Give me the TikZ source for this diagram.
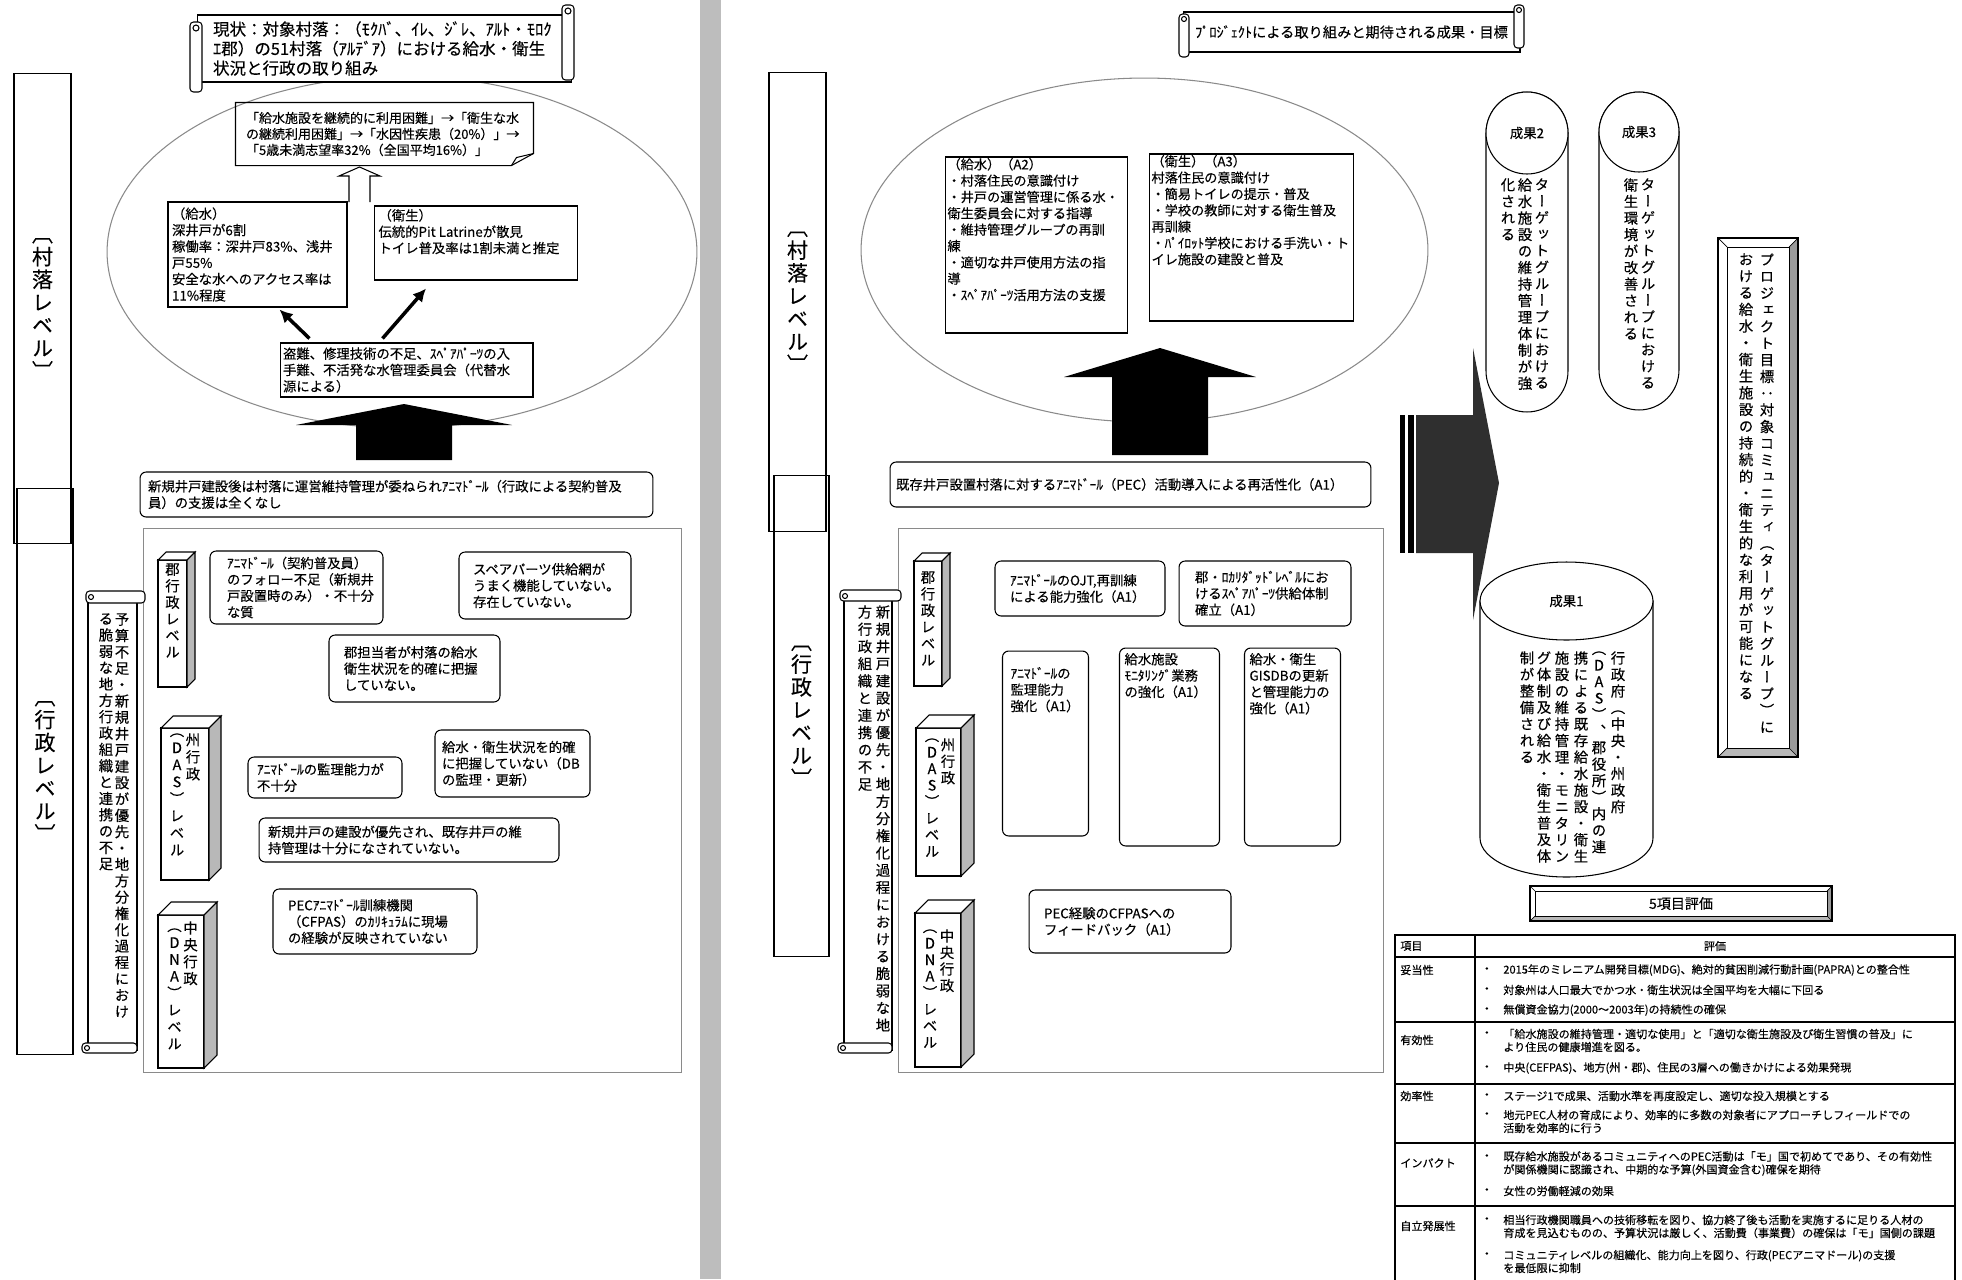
\documentclass[tikz,border=0pt]{standalone}
\usepackage{fontspec}
\setmainfont{Noto Sans CJK JP}[FakeBold=0.25]
\newfontfamily\vjp{Noto Sans CJK JP}[RawFeature=+vert, FakeBold=0.25]
\usetikzlibrary{arrows.meta,calc,shapes.geometric}
\definecolor{linegray}{HTML}{8A8A8A}
\definecolor{bandgray}{HTML}{BDBDBD}
\definecolor{sidegray}{HTML}{B8B8B8}
\definecolor{bevelgray}{HTML}{9A9A9A}
\definecolor{arrowdark}{HTML}{2F2F2F}

\newcommand\fs[2]{\fontsize{#1}{#2}\selectfont}
\newcommand\topbox[3]{\parbox[c][#1][t]{#2}{\raggedright #3}}

% one column of vertical text
\ExplSyntaxOn
\NewDocumentCommand \vcol { O{9.4pt} m }
  {
    \vbox:n
      {
        \skip_set:Nn \baselineskip {#1}
        \dim_set:Nn \lineskiplimit { -\c_max_dim }
        \tl_map_inline:nn {#2} { \hbox_to_wd:nn { 1em } { \hss ##1 \hss } }
      }
  }
\ExplSyntaxOff

% 3D level pillar: x1, y1, x2, y2, depth
\newcommand\pillar[5]{%
  \draw[line width=0.6pt, fill=white] (#1,#2) rectangle (#3,#4);
  \draw[line width=0.6pt, fill=white] (#1,#2) -- ++(#5,-#5) -- ({#3+#5},{#2-#5}) -- (#3,#2) -- cycle;
  \draw[line width=0.6pt, fill=sidegray] (#3,#2) -- ({#3+#5},{#2-#5}) -- ({#3+#5},{#4-#5}) -- (#3,#4) -- cycle;
}

% bevelled frame: x1, y1, x2, y2, bevel
\newcommand\bevelframe[5]{%
  \fill[white] (#1,#2) rectangle (#3,#4);
  \fill[bevelgray] (#3,#2) -- (#3,#4) -- ({#3-#5},{#4-#5}) -- ({#3-#5},{#2+#5}) -- cycle;
  \fill[sidegray] (#1,#4) -- (#3,#4) -- ({#3-#5},{#4-#5}) -- ({#1+#5},{#4-#5}) -- cycle;
  \draw[line width=0.6pt] (#1,#2) rectangle (#3,#4);
  \draw[line width=0.5pt] ({#1+#5},{#2+#5}) rectangle ({#3-#5},{#4-#5});
  \draw[line width=0.4pt] (#1,#2) -- ({#1+#5},{#2+#5}) (#3,#2) -- ({#3-#5},{#2+#5})
    (#1,#4) -- ({#1+#5},{#4-#5}) (#3,#4) -- ({#3-#5},{#4-#5});
}

\begin{document}
\begin{tikzpicture}[
    x=0.02cm, y=-0.02cm,
    >=Latex,
    font=\fs{7.6}{9.3},
    sqline/.style={line width=0.6pt},
    sqbox/.style={draw, line width=0.6pt, fill=white, align=left, inner ysep=0pt},
    rndbox/.style={sqbox, rounded corners=3.5pt},
    oval/.style={draw=linegray, line width=0.6pt, ellipse, inner sep=0pt},
    panel/.style={draw=linegray, line width=0.6pt, inner sep=0pt},
    levelbar/.style={draw, line width=0.6pt, inner sep=0pt, font=\vjp\fs{12}{13}},
    vtext/.style={inner sep=0pt, anchor=north, font=\vjp\fs{8.2}{9.4}},
    flow/.style={-{Latex[length=2.6mm,width=2.6mm]}, line width=2pt},
    cell/.style={inner sep=0pt, anchor=west, align=left, font=\fs{6.3}{7.4}}
]

% page and divider
\fill[white] (0,0) rectangle (1962,1279);
\useasboundingbox (0,0) rectangle (1962,1279);
\clip (0,0) rectangle (1962,1279);
\fill[bandgray] (700,0) rectangle (721,1279);

%%%%%%%%%%%%%%%% current situation (left page)

% level bars
\node[levelbar, minimum width=1.12cm, minimum height=11.34cm] (lgov) at (45,771.5) {\vcol[13pt]{〔行政レベル〕}};
\node[levelbar, minimum width=1.14cm, minimum height=9.42cm] (lvillage) at (42.5,308.5) {\vcol[13pt]{〔村落レベル〕}};

% village ellipse
\node[oval, minimum width=11.8cm, minimum height=7.04cm] (lpond) at (402,252) {};

% title scroll
\node[sqbox, minimum width=7.5cm, minimum height=1.34cm, text width=6.86cm, inner xsep=0.32cm, font=\fs{9.4}{11.1}] (ltitle) at (384.5,48.5) {
    現状：対象村落：（ﾓｸﾊﾞ、ｲﾚ、ｼﾞﾚ、ｱﾙﾄ・ﾓﾛｸ\\
    ｴ郡）の51村落（ｱﾙﾃﾞｱ）における給水・衛生\\
    状況と行政の取り組み
};
\draw[sqline, fill=white, rounded corners=2pt] (190,22) rectangle (202,92);
\draw[sqline, fill=white, rounded corners=2pt] (562,5) rectangle (574,80);
\draw[sqline] (196,28) circle[radius=3];
\draw[sqline] (568,11) circle[radius=3];

% chain of consequences (folded note)
\node[sqbox, draw=none, fill=none, minimum width=5.94cm, minimum height=1.24cm, text width=5.54cm, inner xsep=0.2cm, font=\fs{7.4}{9.1}] (lchain) at (384.5,134) {
    「給水施設を継続的に利用困難」→「衛生な水\\
    の継続利用困難」→「水因性疾患（20\%）」→\\
    「5歳未満志望率32\%（全国平均16\%）」
};
\draw[sqline] (lchain.north west) -- (lchain.north east) -- ($(lchain.south east)+(0,-12)$)
    -- ($(lchain.south east)+(-22,0)$) -- (lchain.south west) -- cycle;
\draw[sqline] ($(lchain.south east)+(0,-12)$) -- ($(lchain.south east)+(-17,-8)$) -- ($(lchain.south east)+(-22,0)$);

% hollow arrow up to the note
\draw[sqline, fill=white] (349,202) -- (349,176) -- (339,176) -- (359.5,167) -- (380,176) -- (370,176) -- (370,202);

% water supply / sanitation state
\node[sqbox, minimum width=3.58cm, minimum height=2.1cm, text width=3.42cm, inner xsep=0.08cm] (lwater) at (257.5,254.5) {
    （給水）\\深井戸が6割\\稼働率：深井戸83\%、浅井\\戸55\%\\安全な水へのアクセス率は\\11\%程度
};
\node[sqbox, inner xsep=0.08cm, inner ysep=0.06cm] (lsanit) at (476,243) {
    \topbox{1.36cm}{3.84cm}{（衛生）\\伝統的Pit Latrineが散見\\トイレ普及率は1割未満と推定}
};

% causes
\node[sqbox, minimum width=5.06cm, minimum height=1.08cm, text width=4.94cm, inner xsep=0.06cm] (lcause) at (406.5,370) {
    盗難、修理技術の不足、ｽﾍﾟｱﾊﾟｰﾂの入\\手難、不活発な水管理委員会（代替水\\源による）
};
\draw[flow] ($(lcause.north west)+(30,-4)$) -- ($(lwater.south east)+(-68,2)$);
\draw[flow] ($(lcause.north west)+(103,-4)$) -- ($(lsanit.south west)+(52,8)$);

% block arrow from the administration
\fill (356,460) -- (356,425) -- (296,425) -- (404,404) -- (512,425) -- (452,425) -- (452,460) -- cycle;

\node[rndbox, minimum width=10.26cm, minimum height=0.9cm, text width=9.94cm, inner xsep=0.16cm] (lsupport) at (396.5,494.5) {
    新規井戸建設後は村落に運営維持管理が委ねられｱﾆﾏﾄﾞｰﾙ（行政による契約普及\\員）の支援は全くなし
};

% administration panel
\node[panel, minimum width=10.78cm, minimum height=10.9cm] (ladmin) at (412.5,800.5) {};

% weakness scroll
\draw[sqline, fill=white] (88,598) rectangle (137,1050);
\draw[sqline, fill=white, rounded corners=2pt] (86,591) rectangle (145,603);
\draw[sqline, fill=white, rounded corners=2pt] (82,1043) rectangle (137,1053);
\draw[sqline] (91,597) circle[radius=2.5];
\draw[sqline] (87,1048) circle[radius=2.5];
\node[vtext] (lweak1) at (122,613) {\vcol[9.3pt]{予算不足・新規井戸建設が優先・地方分権化過程におけ}};
\node[vtext] (lweak2) at (106,613) {\vcol[9.3pt]{る脆弱な地方行政組織と連携の不足}};

% administrative levels
\pillar{158}{560}{187}{687}{8}
\node[vtext] (lgun) at (172.5,563) {\vcol[9.4pt]{郡行政レベル}};
\pillar{161}{728}{209}{880}{12}
\node[vtext] (lshu1) at (193,733) {\vcol[9.7pt]{州行政}};
\node[vtext] (lshu2) at (177,733) {\vcol[9.7pt]{（DAS）レベル}};
\pillar{158}{915}{204}{1068}{13}
\node[vtext] (lchuo1) at (190.5,921) {\vcol[9.6pt]{中央行政}};
\node[vtext] (lchuo2) at (174.5,928) {\vcol[9.6pt]{（DNA）レベル}};

% problems
\node[rndbox, minimum width=3.46cm, minimum height=1.46cm, text width=2.78cm, inner xsep=0.34cm] (lanimador) at (296.5,587.5) {
    ｱﾆﾏﾄﾞｰﾙ（契約普及員）\\のフォロー不足（新規井\\戸設置時のみ）・不十分\\な質
};
\node[rndbox, minimum width=3.44cm, minimum height=1.34cm, text width=2.88cm, inner xsep=0.28cm] (lspare) at (545,585.5) {
    スペアパーツ供給網が\\うまく機能していない。\\存在していない。
};
\node[rndbox, minimum width=3.42cm, minimum height=1.34cm, text width=2.82cm, inner xsep=0.3cm] (lgunstaff) at (414.5,668.5) {
    郡担当者が村落の給水\\衛生状況を的確に把握\\していない。
};
\node[rndbox, minimum width=3.08cm, minimum height=0.82cm, text width=2.72cm, inner xsep=0.18cm] (lsuper) at (325,777.5) {
    ｱﾆﾏﾄﾞｰﾙの監理能力が\\不十分
};
\node[rndbox, minimum width=3.1cm, minimum height=1.34cm, text width=2.82cm, inner xsep=0.14cm] (lmonitor) at (512.5,763.5) {
    給水・衛生状況を的確\\に把握していない（DB\\の監理・更新）
};
\node[rndbox, minimum width=6cm, minimum height=0.88cm, text width=5.64cm, inner xsep=0.18cm] (lpriority) at (409,840) {
    新規井戸の建設が優先され、既存井戸の維\\持管理は十分になされていない。
};
\node[rndbox, minimum width=4.08cm, minimum height=1.3cm, text width=3.48cm, inner xsep=0.3cm] (lcfpas) at (375,921.5) {
    PECｱﾆﾏﾄﾞｰﾙ訓練機関\\（CFPAS）のｶﾘｷｭﾗﾑに現場\\の経験が反映されていない
};

%%%%%%%%%%%%%%%% project plan (right page)

% title scroll
\node[sqbox, minimum width=6.74cm, minimum height=0.8cm, text width=6.5cm, inner xsep=0.12cm, align=center, font=\fs{8.1}{9.5}] (rtitle) at (1351.5,32) {
    ﾌﾟﾛｼﾞｪｸﾄによる取り組みと期待される成果・目標
};
\draw[sqline, fill=white, rounded corners=2pt] (1179,14) rectangle (1189,57);
\draw[sqline, fill=white, rounded corners=2pt] (1514,5) rectangle (1524,48);
\draw[sqline] (1184,19) circle[radius=2.5];
\draw[sqline] (1519,10) circle[radius=2.5];

% level bars
\node[levelbar, minimum width=1.1cm, minimum height=9.64cm] (rgov) at (801.5,716) {\vcol[13pt]{〔行政レベル〕}};
\node[levelbar, minimum width=1.14cm, minimum height=9.2cm] (rvillage) at (797.5,302) {\vcol[13pt]{〔村落レベル〕}};

% village ellipse
\node[oval, minimum width=11.34cm, minimum height=6.88cm] (rpond) at (1144.5,250) {};

\node[sqbox, inner xsep=0.04cm, inner ysep=0.02cm, font=\fs{7.5}{9.3}] (ra2) at (1036.5,245) {
    \topbox{3.48cm}{3.5cm}{（給水）（A2）\\・村落住民の意識付け\\・井戸の運営管理に係る水・\\衛生委員会に対する指導\\・維持管理グループの再訓\\練\\・適切な井戸使用方法の指\\導\\・ｽﾍﾟｱﾊﾟｰﾂ活用方法の支援}
};
\node[sqbox, inner xsep=0.04cm, inner ysep=0.02cm, font=\fs{7.5}{9.3}] (ra3) at (1251.5,237.5) {
    \topbox{3.3cm}{3.94cm}{（衛生）（A3）\\村落住民の意識付け\\・簡易トイレの提示・普及\\・学校の教師に対する衛生普及\\再訓練\\・ﾊﾟｲﾛｯﾄ学校における手洗い・ト\\イレ施設の建設と普及}
};

% block arrow from the administration
\fill (1112,455) -- (1112,377) -- (1064,377) -- (1160,348) -- (1256,377) -- (1208,377) -- (1208,455) -- cycle;

\node[rndbox, minimum width=9.62cm, minimum height=0.9cm, text width=9.38cm, inner xsep=0.12cm] (rrevive) at (1130.5,484.5) {
    既存井戸設置村落に対するｱﾆﾏﾄﾞｰﾙ（PEC）活動導入による再活性化（A1）
};

% administration panel
\node[panel, minimum width=9.72cm, minimum height=10.9cm] (radmin) at (1141,800.5) {};

% weakness scroll
\draw[sqline, fill=white] (844,597) rectangle (892,1050);
\draw[sqline, fill=white, rounded corners=2pt] (840,590) rectangle (901,601);
\draw[sqline, fill=white, rounded corners=2pt] (838,1043) rectangle (892,1053);
\draw[sqline] (845,596) circle[radius=2.5];
\draw[sqline] (843,1048) circle[radius=2.5];
\node[vtext] (rweak1) at (883,605) {\vcol[9.8pt]{新規井戸建設が優先・地方分権化過程における脆弱な地}};
\node[vtext] (rweak2) at (865,605) {\vcol[9.8pt]{方行政組織と連携の不足}};

% administrative levels
\pillar{914}{561}{942}{686}{8}
\node[vtext] (rgun) at (928,571) {\vcol[9.4pt]{郡行政レベル}};
\pillar{916}{728}{961}{876}{13}
\node[vtext] (rshu1) at (948,738) {\vcol[9.4pt]{州行政}};
\node[vtext] (rshu2) at (932,738) {\vcol[9.4pt]{（DAS）レベル}};
\pillar{915}{913}{961}{1067}{13}
\node[vtext] (rchuo1) at (947,929) {\vcol[9.4pt]{中央行政}};
\node[vtext] (rchuo2) at (930,929) {\vcol[9.4pt]{（DNA）レベル}};

% activities
\node[rndbox, minimum width=3.4cm, minimum height=1.1cm, text width=2.8cm, inner xsep=0.3cm] (rojt) at (1080,588.5) {
    ｱﾆﾏﾄﾞｰﾙのOJT,再訓練\\による能力強化（A1）
};
\node[rndbox, minimum width=3.44cm, minimum height=1.3cm, text width=2.8cm, inner xsep=0.32cm] (rsupply) at (1265,593.5) {
    郡・ﾛｶﾘﾀﾞｯﾄﾞﾚﾍﾞﾙにお\\けるｽﾍﾟｱﾊﾟｰﾂ供給体制\\確立（A1）
};
\node[rndbox, inner xsep=0.16cm, inner ysep=0.32cm] (rsuper) at (1045.5,743.5) {
    \topbox{3.06cm}{1.34cm}{ｱﾆﾏﾄﾞｰﾙの\\監理能力\\強化（A1）}
};
\node[rndbox, inner xsep=0.1cm, inner ysep=0.1cm] (rmonitor) at (1169.5,747) {
    \topbox{3.76cm}{1.74cm}{給水施設\\ﾓﾆﾀﾘﾝｸﾞ業務\\の強化（A1）}
};
\node[rndbox, inner xsep=0.1cm, inner ysep=0.1cm] (rgis) at (1292.5,747) {
    \topbox{3.76cm}{1.66cm}{給水・衛生\\GISDBの更新\\と管理能力の\\強化（A1）}
};
\node[rndbox, minimum width=4.04cm, minimum height=1.26cm, text width=3.44cm, inner xsep=0.3cm] (rfeedback) at (1130,921.5) {
    PEC経験のCFPASへの\\フィードバック（A1）
};

% arrow towards the outcomes
\fill[arrowdark] (1416,415) -- (1473,415) -- (1473,348) -- (1499,483) -- (1473,620) -- (1473,553) -- (1416,553) -- cycle;
\fill (1400,415) rectangle (1405,553);
\fill (1408,415) rectangle (1414,553);

% outcome 2
\node[sqbox, rounded corners=0.82cm, minimum width=1.64cm, minimum height=6.4cm] (out2tube) at (1527,252) {};
\node[sqbox, circle, minimum size=1.64cm, align=center] (out2) at (1527,133) {成果2};
\node[vtext] (out2a) at (1542,178) {\vcol{ターゲットグループにおける}};
\node[vtext] (out2b) at (1525,178) {\vcol{給水施設の維持管理体制が強}};
\node[vtext] (out2c) at (1508,178) {\vcol{化される}};

% outcome 3
\node[sqbox, rounded corners=0.8cm, minimum width=1.6cm, minimum height=6.36cm] (out3tube) at (1639,251) {};
\node[sqbox, circle, minimum size=1.6cm, align=center] (out3) at (1639,132) {成果3};
\node[vtext] (out3a) at (1648,178) {\vcol{ターゲットグループにおける}};
\node[vtext] (out3b) at (1631,178) {\vcol{衛生環境が改善される}};

% project purpose
\bevelframe{1718}{238}{1798}{757}{9}
\node[vtext] (goal1) at (1767,253) {\vcol[9.5pt]{プロジェクト目標：対象コミュニティ（ターゲットグループ）に}};
\node[vtext] (goal2) at (1746,253) {\vcol[9.5pt]{おける給水・衛生施設の持続的・衛生的な利用が可能になる}};

% outcome 1
\draw[sqline, fill=white] (1480,601) -- (1480,838) arc[start angle=180, end angle=0, x radius=86.5, y radius=39] -- (1653,601) -- cycle;
\node[sqbox, ellipse, minimum width=3.46cm, minimum height=1.56cm, align=center] (out1) at (1566.5,601) {成果1};
\node[vtext] (out1a) at (1618,651) {\vcol{行政府（中央・州政府}};
\node[vtext] (out1b) at (1599,651) {\vcol{（DAS）、郡役所）内の連}};
\node[vtext] (out1c) at (1581,651) {\vcol{携による既存給水施設・衛生}};
\node[vtext] (out1d) at (1562,651) {\vcol{施設の維持管理・モニタリン}};
\node[vtext] (out1e) at (1544,651) {\vcol{グ体制及び給水・衛生普及体}};
\node[vtext] (out1f) at (1527,651) {\vcol{制が整備される}};

% five criteria
\bevelframe{1530}{886}{1832}{921}{5}
\node[font=\fs{8}{9}] (eval) at (1681,903.5) {5項目評価};

\draw[line width=0.9pt] (1395,935) rectangle (1955,1300);
\draw[line width=0.6pt] (1475,935) -- (1475,1300);
\foreach \yy in {957,1022,1084,1143,1206}
    \draw[line width=0.6pt] (1395,\yy) -- (1955,\yy);

\node[cell] (hitem) at (1400,946) {項目};
\node[cell, anchor=center] (hval) at (1715,946) {評価};

\node[cell] (crel) at (1400,970) {妥当性};
\node[cell] (crel1b) at (1481,970) {・};
\node[cell] (crel1) at (1503,970) {2015年のミレニアム開発目標(MDG)、絶対的貧困削減行動計画(PAPRA)との整合性};
\node[cell] (crel2b) at (1481,990) {・};
\node[cell] (crel2) at (1503,990) {対象州は人口最大でかつ水・衛生状況は全国平均を大幅に下回る};
\node[cell] (crel3b) at (1481,1010) {・};
\node[cell] (crel3) at (1503,1010) {無償資金協力(2000～2003年)の持続性の確保};

\node[cell] (ceff) at (1400,1040) {有効性};
\node[cell] (ceff1b) at (1481,1034) {・};
\node[cell] (ceff1) at (1503,1040.5) {「給水施設の維持管理・適切な使用」と「適切な衛生施設及び衛生習慣の普及」に\\より住民の健康増進を図る。};
\node[cell] (ceff2b) at (1481,1068) {・};
\node[cell] (ceff2) at (1503,1068) {中央(CEFPAS)、地方(州・郡)、住民の3層への働きかけによる効果発現};

\node[cell] (cfin) at (1400,1096) {効率性};
\node[cell] (cfin1b) at (1481,1096) {・};
\node[cell] (cfin1) at (1503,1096) {ステージ1で成果、活動水準を再度設定し、適切な投入規模とする};
\node[cell] (cfin2b) at (1481,1115) {・};
\node[cell] (cfin2) at (1503,1121.5) {地元PEC人材の育成により、効率的に多数の対象者にアプローチしフィールドでの\\活動を効率的に行う};

\node[cell] (cimp) at (1400,1163) {インパクト};
\node[cell] (cimp1b) at (1481,1157) {・};
\node[cell] (cimp1) at (1503,1163.5) {既存給水施設があるコミュニティへのPEC活動は「モ」国で初めてであり、その有効性\\が関係機関に認識され、中期的な予算(外国資金含む)確保を期待};
\node[cell] (cimp2b) at (1481,1191) {・};
\node[cell] (cimp2) at (1503,1191) {女性の労働軽減の効果};

\node[cell] (csus) at (1400,1226) {自立発展性};
\node[cell] (csus1b) at (1481,1220) {・};
\node[cell] (csus1) at (1503,1226.5) {相当行政機関職員への技術移転を図り、協力終了後も活動を実施するに足りる人材の\\育成を見込むものの、予算状況は厳しく、活動費（事業費）の確保は「モ」国側の課題};
\node[cell] (csus2b) at (1481,1255) {・};
\node[cell] (csus2) at (1503,1261.5) {コミュニティレベルの組織化、能力向上を図り、行政(PECアニマドール)の支援\\を最低限に抑制};

\end{tikzpicture}
\end{document}
